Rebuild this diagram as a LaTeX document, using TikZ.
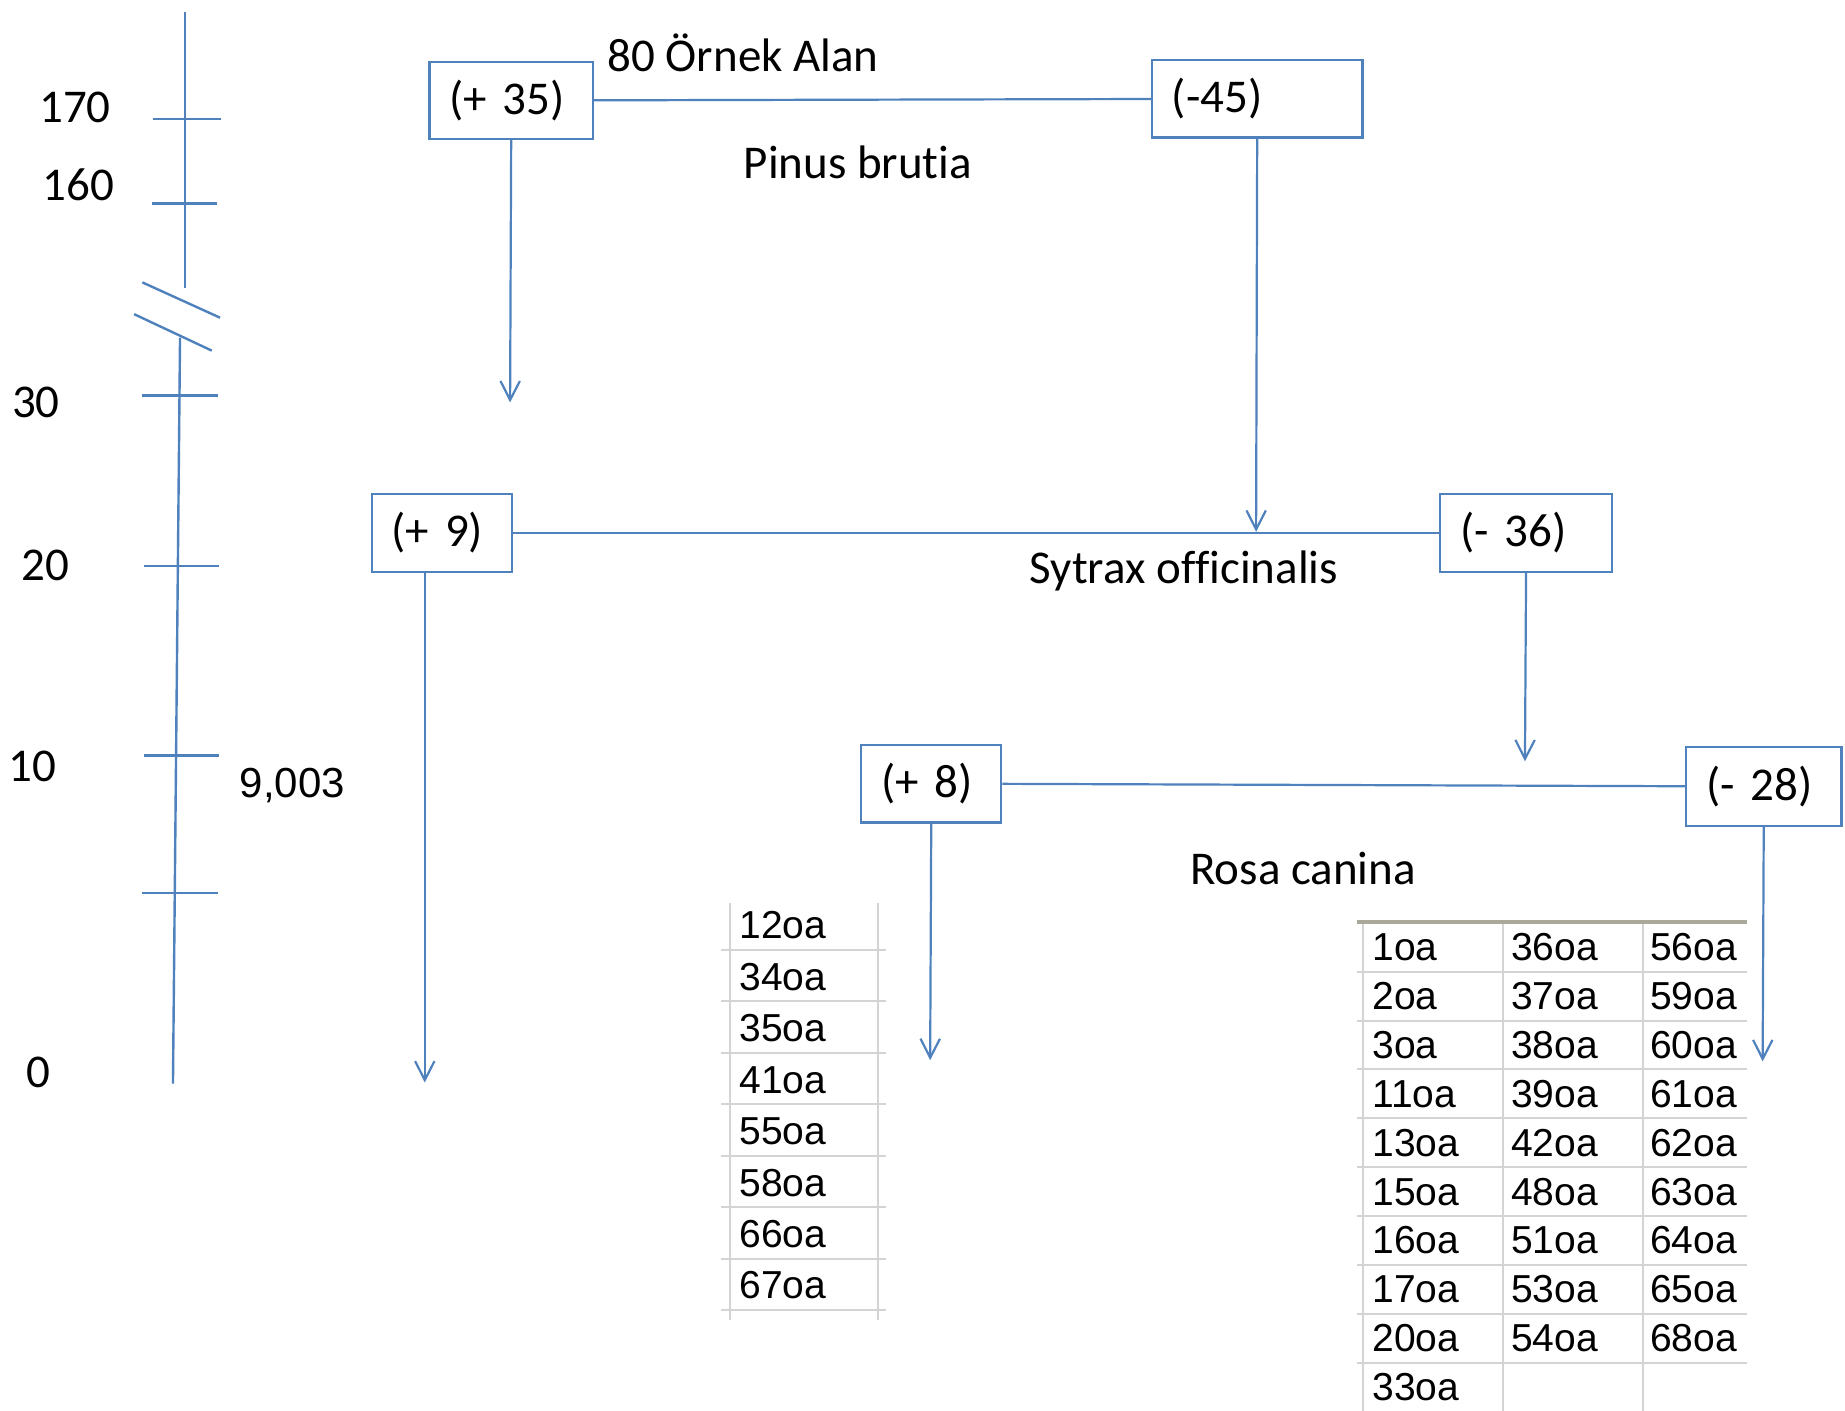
\documentclass[tikz,border=0pt]{standalone}
\usepackage{fontspec}
\setmainfont{Carlito}[Ligatures={CommonOff,ContextualOff}]
\newfontfamily\arialf{Liberation Sans}
\usetikzlibrary{arrows.meta}
\definecolor{lblue}{HTML}{4F81BD}
\definecolor{gridg}{RGB}{212,212,212}
\definecolor{topg}{RGB}{170,168,152}
\tikzset{
  lbl/.style={font=\fontsize{23.5pt}{28pt}\selectfont, inner sep=0pt, anchor=base west},
  box/.style={draw=lblue, line width=1.1pt, anchor=north west, inner xsep=10pt, inner ysep=0pt,
              align=left, font=\fontsize{23.5pt}{28pt}\selectfont},
  conn/.style={draw=lblue, line width=1.1pt},
  arr/.style={conn, -{Straight Barb[length=9.5pt,width=9.7pt,line width=1.1pt]}},
  axisline/.style={draw=lblue, line width=1.2pt},
  cell/.style={font=\arialf\fontsize{19.5pt}{23pt}\selectfont, inner sep=0pt, anchor=base west},
  gridl/.style={draw=gridg, line width=1pt},
}
\begin{document}
\begin{tikzpicture}[x=0.58835pt, y=-0.58835pt]
\useasboundingbox (0,0) rectangle (1568,1199);

% ---- axis ----
\draw[axisline] (157,10) -- (157,245);
\draw[axisline] (130,101) -- (188,101);
\draw[axisline] (129,173) -- (184,173);
\draw[axisline] (121,240) -- (187,270);
\draw[axisline] (114,267) -- (180,298);
\draw[axisline] (153,287) -- (147,921);
\draw[axisline] (121,336) -- (185,336);
\draw[axisline] (122,481) -- (186,481);
\draw[axisline] (122,642) -- (186,642);
\draw[axisline] (121,759) -- (185,759);

\node[lbl] (y170) at (33,104.5) {170};
\node[lbl] (y160) at (36,170) {160};
\node[lbl] (y30) at (10,355) {30};
\node[lbl] (y20) at (18,493) {20};
\node[lbl] (y10) at (7,664) {10};
\node[lbl] (y0) at (22,924) {0};
\node[lbl, font=\arialf\fontsize{21pt}{25pt}\selectfont] (v9003) at (203.4,677.6) {9,003};

% ---- boxes ----
\node[box, text width=61.78pt, minimum height=38.24pt] (b35) at (364,52) {(+ 35)};
\node[box, text width=85.31pt, minimum height=38.83pt] (b45) at (978,50) {(-45)};
\node[box, text width=50.01pt, minimum height=38.83pt] (b9) at (315,419) {(+ 9)};
\node[box, text width=65.90pt, minimum height=38.83pt] (b36) at (1223,419) {(- 36)};
\node[box, text width=50.01pt, minimum height=38.83pt] (b8) at (731,632) {(+ 8)};
\node[box, text width=57.66pt, minimum height=39.42pt] (b28) at (1432,634) {(- 28)};

% ---- labels ----
\node[lbl] (alan) at (516,60.9) {80 Örnek Alan};
\node[lbl] (pinus) at (631.7,151.5) {Pinus brutia};
\node[lbl] (sytrax) at (874.8,495.7) {Sytrax officinalis};
\node[lbl] (rosa) at (1011.3,752.1) {Rosa canina};

% ---- arrow ends ----
\coordinate (t1) at (433.5,342);
\coordinate (t2) at (1067.5,452);
\coordinate (t3) at (361,920);
\coordinate (t4) at (1296,647);
\coordinate (t5) at (790.5,901);
\coordinate (t6) at (1498,902);

% ---- connectors ----
\draw[conn] (b35) -- (b45);
\draw[arr] (b35.south) -- (t1);
\draw[arr] (b45.south) -- (t2);
\draw[conn] (b9) -- (b36);
\draw[arr] (b9.south -| t3) -- (t3);
\draw[arr] (b36.south) -- (t4);
\draw[conn] (b8) -- (b28);
\draw[arr] (b8.south) -- (t5);
\draw[arr] (b28.south) -- (t6);

% ---- left table ----
\draw[gridl] (620,767) -- (620,1122);
\draw[gridl] (746,767) -- (746,1122);
\foreach \k in {0,...,7} {
  \draw[gridl] (613,{807.4+43.7*\k}) -- (753,{807.4+43.7*\k});
}
\foreach \t [count=\i] in {12oa,34oa,35oa,41oa,55oa,58oa,66oa,67oa} {
  \node[cell] (L\i) at (628,{798+43.7*(\i-1)}) {\t};
}

% ---- right table ----
\foreach \xx in {1158,1277,1396} {
  \draw[gridl] (\xx,783.5) -- (\xx,1199);
}
\foreach \k in {0,...,8} {
  \draw[gridl] (1153,{825.8+41.53*\k}) -- (1485,{825.8+41.53*\k});
}
\draw[draw=topg, line width=1.6pt] (1153,783.5) -- (1485,783.5);
\foreach \t [count=\i] in {1oa,2oa,3oa,11oa,13oa,15oa,16oa,17oa,20oa,33oa} {
  \node[cell] (RA\i) at (1166,{816.5+41.53*(\i-1)}) {\t};
}
\foreach \t [count=\i] in {36oa,37oa,38oa,39oa,42oa,48oa,51oa,53oa,54oa} {
  \node[cell] (RB\i) at (1284,{816.5+41.53*(\i-1)}) {\t};
}
\foreach \t [count=\i] in {56oa,59oa,60oa,61oa,62oa,63oa,64oa,65oa,68oa} {
  \node[cell] (RC\i) at (1402,{816.5+41.53*(\i-1)}) {\t};
}
\end{tikzpicture}
\end{document}
